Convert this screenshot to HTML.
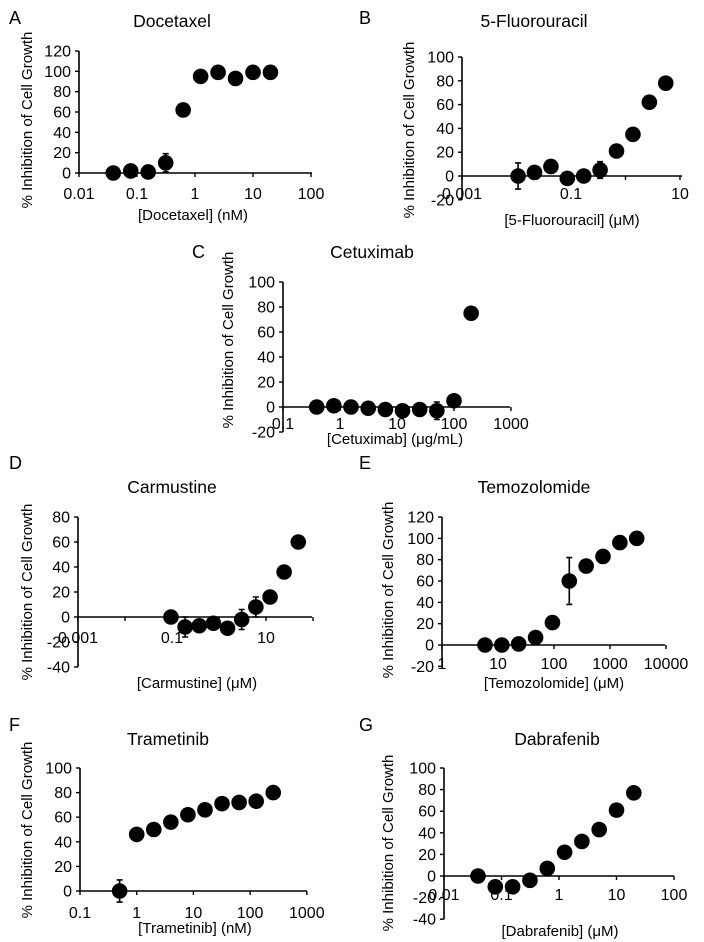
<!DOCTYPE html>
<html><head><meta charset="utf-8"><style>
html,body{margin:0;padding:0;background:#fff;}
svg{display:block;font-family:"Liberation Sans",Arial,sans-serif;}
</style></head><body>
<svg id="fig" width="704" height="942" viewBox="0 0 704 942" xmlns="http://www.w3.org/2000/svg"></svg>
<script>
// ---- data ----
const docetaxelConc = [0.039,0.078,0.156,0.3125,0.625,1.25,2.5,5,10,20];
const docetaxelInhib = [0,2,1,10,62,95,99,93,99,99];
const docetaxelErr = [2,3,3,9,4,2,2,2,2,2];
const fuConc = [0.0107,0.0214,0.0428,0.0856,0.171,0.342,0.684,1.37,2.74,5.48];
const fuInhib = [0,3,8,-2,0,5,21,35,62,78];
const fuErr = [11,2,5,2,5,7,2,2,2,2];
const cetuxConc = [0.39,0.78,1.56,3.125,6.25,12.5,25,50,100,200];
const cetuxInhib = [0,1,0,-1,-2,-3,-2,-3,5,75];
const cetuxErr = [1,1,1,1,2,5,5,7,2,1];
const carmConc = [0.095,0.19,0.38,0.76,1.52,3.04,6.08,12.2,24.3,48.6];
const carmInhib = [0,-8,-7,-5,-9,-2,8,16,36,60];
const carmErr = [1,8,3,2,2,8,8,2,2,3];
const temoConc = [5.86,11.7,23.4,46.9,93.75,187.5,375,750,1500,3000];
const temoInhib = [0,0,1,7,21,60,74,83,96,100];
const temoErr = [1,1,1,2,2,22,2,2,2,2];
const tramConc = [0.5,1,2,4,8,16,32,64,128,256];
const tramInhib = [0,46,50,56,62,66,71,72,73,80];
const tramErr = [9,1,1,1,1,1,1,1,1,1];
const dabConc = [0.039,0.078,0.156,0.3125,0.625,1.25,2.5,5,10,20];
const dabInhib = [0,-10,-10,-4,7,22,32,43,61,77];
const dabErr = [1,2,2,2,2,1,1,1,1,1];
const docetaxelXTicks = ["0.01","0.1","1","10","100"];
const fuXTicks = ["0.001","0.1","10"];
const cetuxXTicks = ["0.1","1","10","100","1000"];
const carmXTicks = ["0.001","0.1","10"];
const temoXTicks = ["1","10","100","1000","10000"];
const tramXTicks = ["0.1","1","10","100","1000"];
const dabXTicks = ["0.01","0.1","1","10","100"];

const NS = "http://www.w3.org/2000/svg";
const svg = document.getElementById('fig');
function mk(tag, attrs, parent, txt){
  const e = document.createElementNS(NS, tag);
  for (const k in attrs) e.setAttribute(k, attrs[k]);
  if (txt !== undefined) e.textContent = txt;
  parent.appendChild(e);
  return e;
}

const panels = [
 {id:'a', letter:'A', lx:9, ly:24, title:'Docetaxel', tx:172, ty:27, xlabel:'[Docetaxel] (nM)', xlx:193, xly:220, ylx:32, yly:120,
  ax:79, xLogMin:-2, decade:58, xEnd:312, yTopV:120, yTopPx:51, yBotV:0, yBotPx:173, yMin:0, yMax:120, yStep:20, tickLY:199, tickDec:1,
  xt:docetaxelXTicks, c:docetaxelConc, v:docetaxelInhib, e:docetaxelErr},
 {id:'b', letter:'B', lx:359, ly:24, title:'5-Fluorouracil', tx:534, ty:27, xlabel:'[5-Fluorouracil] (\u03bcM)', xlx:572, xly:225, ylx:414, yly:130,
  ax:462, xLogMin:-3, decade:54.5, xEnd:682, yTopV:100, yTopPx:57, yBotV:0, yBotPx:176, yMin:-20, yMax:100, yStep:20, tickLY:199, tickDec:2,
  xt:fuXTicks, c:fuConc, v:fuInhib, e:fuErr},
 {id:'c', letter:'C', lx:192, ly:258, title:'Cetuximab', tx:372, ty:258, xlabel:'[Cetuximab] (\u03bcg/mL)', xlx:395, xly:444, ylx:233, yly:340,
  ax:283, xLogMin:-1, decade:57, xEnd:510, yTopV:100, yTopPx:282, yBotV:0, yBotPx:407, yMin:-20, yMax:100, yStep:20, tickLY:429, tickDec:1,
  xt:cetuxXTicks, c:cetuxConc, v:cetuxInhib, e:cetuxErr},
 {id:'d', letter:'D', lx:9, ly:469, title:'Carmustine', tx:172, ty:493, xlabel:'[Carmustine] (\u03bcM)', xlx:197, xly:688, ylx:32, yly:592,
  ax:78, xLogMin:-3, decade:47, xEnd:312, yTopV:80, yTopPx:517, yBotV:0, yBotPx:617, yMin:-40, yMax:80, yStep:20, tickLY:643, tickDec:2,
  xt:carmXTicks, c:carmConc, v:carmInhib, e:carmErr},
 {id:'e', letter:'E', lx:359, ly:469, title:'Temozolomide', tx:534, ty:493, xlabel:'[Temozolomide] (\u03bcM)', xlx:554, xly:688, ylx:393, yly:590,
  ax:442, xLogMin:0, decade:56, xEnd:665, yTopV:120, yTopPx:517, yBotV:0, yBotPx:645, yMin:-20, yMax:120, yStep:20, tickLY:669, tickDec:1,
  xt:temoXTicks, c:temoConc, v:temoInhib, e:temoErr},
 {id:'f', letter:'F', lx:9, ly:731, title:'Trametinib', tx:168, ty:745, xlabel:'[Trametinib] (nM)', xlx:195, xly:933, ylx:32, yly:830,
  ax:80, xLogMin:-1, decade:56.7, xEnd:307, yTopV:100, yTopPx:768, yBotV:0, yBotPx:891, yMin:0, yMax:100, yStep:20, tickLY:918, tickDec:1,
  xt:tramXTicks, c:tramConc, v:tramInhib, e:tramErr},
 {id:'g', letter:'G', lx:359, ly:731, title:'Dabrafenib', tx:557, ty:745, xlabel:'[Dabrafenib] (\u03bcM)', xlx:560, xly:936, ylx:393, yly:843,
  ax:444, xLogMin:-2, decade:57.5, xEnd:674, yTopV:100, yTopPx:768, yBotV:0, yBotPx:876, yMin:-40, yMax:100, yStep:20, tickLY:900, tickDec:1,
  xt:dabXTicks, c:dabConc, v:dabInhib, e:dabErr}
];

panels.forEach(p => {
  const g = mk('g', {}, svg);
  
  
  const xs = c => p.ax + (Math.log10(c) - p.xLogMin) * p.decade;
  const ys = v => p.yBotPx + (v - p.yBotV) * (p.yTopPx - p.yBotPx) / (p.yTopV - p.yBotV);

  const L = mk('text', {x:p.lx, y:p.ly, 'font-size':18, fill:'#000'}, g, p.letter);
  
  
  const T = mk('text', {x:p.tx, y:p.ty, 'font-size':17.5, 'text-anchor':'middle', fill:'#000'}, g, p.title);
  
  
  const YL = mk('text', {x:p.ylx, y:p.yly, 'font-size':15, 'text-anchor':'middle', transform:'rotate(-90 '+p.ylx+' '+p.yly+')', fill:'#000'}, g, '% Inhibition of Cell Growth');
  
  
  const XL = mk('text', {x:p.xlx, y:p.xly, 'font-size':15, 'text-anchor':'middle', fill:'#000'}, g, p.xlabel);
  
  

  const ya = mk('line', {x1:p.ax, x2:p.ax, y1:ys(p.yMin), y2:ys(p.yMax), stroke:'#000', 'stroke-width':1.6}, g);
  
  
  for (let v = p.yMin; v <= p.yMax + 0.001; v += p.yStep) {
    mk('line', {x1:p.ax-4, x2:p.ax, y1:ys(v), y2:ys(v), stroke:'#000', 'stroke-width':1.4}, g);
    const t = mk('text', {x:p.ax-8, y:ys(v)+5.5, 'font-size':16, 'text-anchor':'end', fill:'#000'}, g, String(v));
    
    
  }
  const y0 = ys(0);
  const xa = mk('line', {x1:p.ax, x2:p.xEnd, y1:y0, y2:y0, stroke:'#000', 'stroke-width':1.6}, g);
  
  
  const nDec = Math.round((p.xEnd - p.ax) / p.decade);
  for (let i = 0; i <= nDec; i++) {
    const px = p.ax + i * p.decade;
    mk('line', {x1:px, x2:px, y1:y0, y2:y0+4, stroke:'#000', 'stroke-width':1.4}, g);
  }
  p.xt.forEach((lab, i) => {
    const px = p.ax + i * p.tickDec * p.decade;
    const t = mk('text', {x:px, y:p.tickLY, 'font-size':16, 'text-anchor':'middle', fill:'#000'}, g, lab);
    
    
  });
  p.c.forEach((c, i) => {
    const px = xs(c), py = ys(p.v[i]);
    const e = p.e[i];
    if (e > 2) {
      const eb = mk('path', {d:'M'+px+' '+ys(p.v[i]+e)+'V'+ys(p.v[i]-e)+'M'+(px-3)+' '+ys(p.v[i]+e)+'h6M'+(px-3)+' '+ys(p.v[i]-e)+'h6', stroke:'#000', 'stroke-width':1.6, fill:'none'}, g);
      
      
    }
    const pt = mk('circle', {cx:px, cy:py, r:7.8, fill:'#000'}, g);
    
    
  });
});
</script>
</body></html>
